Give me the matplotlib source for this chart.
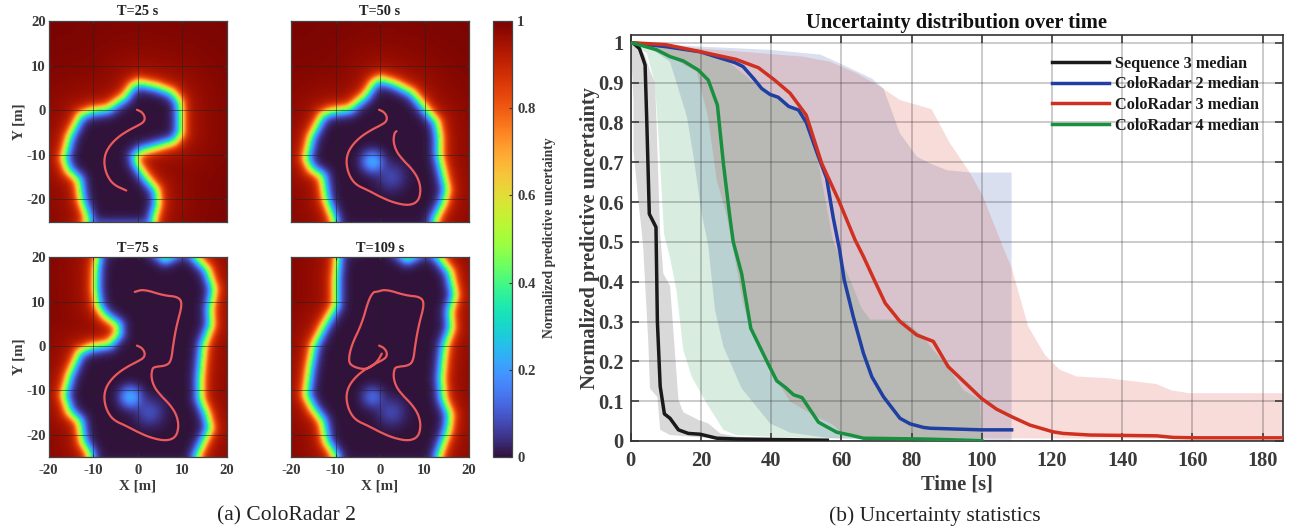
import numpy as np
import matplotlib
matplotlib.use("Agg")
import matplotlib.pyplot as plt
from matplotlib.path import Path

W, H = 1294, 531
plt.rcParams['font.family'] = ['Liberation Serif', 'DejaVu Serif']
plt.rcParams['font.weight'] = 'bold'
plt.rcParams['axes.unicode_minus'] = False
TXT = '#3a3a3a'

# ---------- left: free-space boundaries (x, y in metres) ----------
bound_25_x = [0.1,4.3,7.6,9.3,9.5,9.5,8,4.3,0.5,-0.7,-0.4,1.6,4.1,4.4,3.4,3.1,-12.6,-11.3,-12.9,-13.5,-15.9,-16.8,-15.6,-13.1,-10.7,-7,-3.2,-1.3]
bound_25_y = [6.3,5.4,4.1,1.9,-0.7,-5.2,-7.1,-8.2,-9.3,-10.4,-11.9,-14.9,-17.9,-20.9,-24.6,-26.5,-26.5,-24.6,-20.1,-15.7,-13.4,-10.8,-6,-1.1,-0.1,0.4,3,5.6]
bound_50_x = [0,3.4,7.1,9,10.5,12.7,13.3,13.3,14.2,15,14.2,12.3,12,-10.1,-10.5,-12.3,-13.1,-15.7,-16.8,-15.7,-13.1,-11.2,-7,-3.4,-1.5]
bound_50_y = [7.1,6,4.1,1.9,0,-2.6,-6,-10.4,-14.2,-17.9,-20.9,-24.6,-28,-28,-24.6,-20.1,-14.9,-13.1,-10.8,-6,-1.1,-0.2,0.4,3.4,6.3]
bound_75_x = [-9.5,0,3,6,9.5,11,13.2,15.5,17,16.2,16.4,14.7,14.4,14,14,15.5,16.2,14.7,13.2,12.9,-10.3,-11,-12.6,-13.3,-15.6,-16.8,-15.6,-13.3,-10.7,-6.6,-4.6,-4.7,-7.7,-9.2,-9.7,-9.6,-9.2]
bound_75_y = [22,24,22,19.8,21.5,22,19.7,17.4,12.9,8.4,4.7,0.2,-2.9,-7.4,-11.9,-15.6,-18.6,-21.7,-25,-28,-28,-24.3,-21.7,-17.1,-14.9,-11.1,-6.6,-1.4,-0.2,0.5,2.8,4.7,6.9,9.2,12.9,17.4,19.7]
bound_109_x = [-9.5,0,3,6,9.5,11,13.5,15.7,16.8,15.7,16,14.6,14.2,13.8,14.2,15.7,15.3,13.1,12.9,-10.1,-10.1,-12.3,-13.1,-15.3,-16.8,-16,-15,-12.7,-10.1,-10.1,-9.7]
bound_109_y = [22,24,22,19.8,21.5,22,19.7,16.8,11.6,7.8,4,0.2,-2.9,-7.4,-11.9,-15.6,-18.9,-25,-28,-28,-25,-21.6,-17.1,-14.1,-11.1,-5.1,0.2,4.7,9.2,15.2,19.7]

# travelled path
track_x = [-0.2,0.9,1.6,1.4,0.1,-2.1,-4.4,-6.2,-7.3,-7.6,-7,-5.5,-2.6,0,3,6.4,8.6,9.2,8.6,7.1,5.2,3.7,3,3.2,3.7,
           6.5,7.5,7.9,8.7,10,9.1,5.8,1.3,-0.7,
           -1.5,-2.6,-4.1,-6.4,-7.1,-6.4,-3.7,-1.9,-0.4,0.4]
track_y = [0.1,-0.4,-1.5,-2.6,-3.4,-4.5,-6,-7.8,-9.7,-11.9,-14.5,-16.7,-18,-19.4,-20.7,-21.4,-20.5,-17.9,-15.3,-13.1,-11.2,-9.3,-7.1,-5.2,-4.7,
           -4.4,-3.2,0.2,4.7,9.5,11.1,11.4,12.8,12.2,
           12.2,10.3,5,0.2,-3.2,-4.5,-5.3,-4.7,-3.2,-1.7]
track_ends = [13, 25, 34, 44]

times = ['T=25 s', 'T=50 s', 'T=75 s', 'T=109 s']
blob_main = [0.0, 0.21, 0.21, 0.11]
blob_side = [0.0, 0.07, 0.08, 0.07]

# ---------- right: median curves and bands ----------
seq3_t = [0,1,2.5,3.5,4.1,4.6,5.3,7.2,7.6,8.4,9.6,11.2,13.6,16.4,19.8,24.5,30,56]
seq3_m = [1,.997,.985,.96,.944,.797,.57,.537,.3,.137,.068,.057,.028,.019,.017,.007,.005,.002]
seq3_up_t = [0,2,4,5.5,6.9,7.2,8.4,9.3,11.2,13.6,15,19.3,22.1,25.5,30,49,56]
seq3_up = [1,.99,.97,.93,.9,.84,.52,.42,.39,.103,.072,.053,.044,.019,.011,.005,.002]
seq3_lo_t = [0,.8,.8,2.2,3.1,3.6,5,5.5,7.6,8.4,11.2,19.8,30,56]
seq3_lo = [1,.856,.73,.6,.53,.48,.25,.132,.11,.028,.015,.009,.002,0]

cr2_t = [0,10,19.8,29.7,32,35,37.3,39.7,42,45,47.8,50,53.5,55.8,57.7,59.5,60.8,63.4,66.3,68.7,72,76.7,79.6,83.4,85.3,100,108.5]
cr2_m = [1,.99,.977,.95,.94,.91,.885,.87,.863,.84,.831,.8,.713,.66,.56,.48,.405,.312,.22,.161,.111,.057,.043,.034,.032,.028,.028]
cr2_up_t = [0,20,39.7,54,59.6,68.7,72,76.7,81.5,85.2,90,96.6,108.5]
cr2_up = [1,.99,.982,.97,.948,.91,.885,.772,.714,.697,.68,.674,.674]
cr2_lo_t = [0,5,11.2,13.1,16,17.9,20.2,22.1,23.1,24,26.4,31.6,39.7,45.4,56.8,108.5]
cr2_lo = [1,.99,.952,.898,.814,.714,.572,.49,.404,.329,.237,.132,.044,.021,.007,0]

cr3_t = [0,10,19.5,30,36.4,41,45.4,50,54.4,59.2,63.9,66.3,69.6,72.5,76.7,81.5,86.2,90.4,99.9,104.2,108.5,113.7,120.3,123.2,130.8,149.8,154.5,161,186]
cr3_m = [1,.995,.978,.958,.937,.906,.873,.818,.697,.605,.505,.463,.4,.346,.3,.266,.25,.187,.107,.08,.061,.04,.023,.019,.015,.013,.009,.008,.008]
cr3_up_t = [0,10,20,32,49,56.8,64.4,71,76.7,85.7,90.9,96.6,100.4,106,108.5,113.2,118,122.2,127,135.5,149.8,154,159.3,186]
cr3_up = [1,.995,.985,.977,.965,.952,.923,.89,.856,.833,.748,.674,.613,.488,.435,.288,.216,.179,.162,.158,.143,.127,.12,.12]
cr3_lo_t = [0,10,18.8,22,24.5,27.4,29.2,32,34.5,39.7,45.4,51,57.7,60,68,85.3,186]
cr3_lo = [1,.97,.927,.814,.655,.563,.48,.346,.27,.178,.099,.07,.04,.019,.009,.007,.005]

cr4_t = [0,2.7,7.4,11.2,15,19.3,22.1,24.7,26.4,28.1,29.2,31.6,33,34.2,38.8,41.6,44,46.4,48.8,53.5,58.7,62.5,66.3,83.4,100]
cr4_m = [1,.994,.982,.965,.954,.931,.906,.843,.697,.572,.5,.42,.346,.283,.2,.151,.135,.116,.109,.047,.022,.015,.007,.005,.001]
cr4_up_t = [0,19.8,28.3,33,36.8,39.7,47.8,50,53.5,55.8,57.7,62.5,65.8,68.2,77.7,83.4,85.3,90,94.7,99.5,100]
cr4_up = [1,.977,.948,.915,.885,.87,.831,.8,.697,.588,.5,.405,.333,.305,.304,.262,.237,.19,.128,.103,0]
cr4_lo_t = [0,4.6,6.9,7.9,9.5,11.2,13,15,17.4,21.6,26.4,30,43.5,100]
cr4_lo = [1,.973,.898,.77,.52,.46,.38,.228,.161,.095,.028,.015,.009,0]

names = ['Sequence 3 median', 'ColoRadar 2 median', 'ColoRadar 3 median', 'ColoRadar 4 median']
colors = ['#1a1a1a', '#1f3fa3', '#d0301f', '#18903f']
bands = [
    (seq3_t, seq3_m, seq3_up_t, seq3_up, seq3_lo_t, seq3_lo),
    (cr2_t, cr2_m, cr2_up_t, cr2_up, cr2_lo_t, cr2_lo),
    (cr3_t, cr3_m, cr3_up_t, cr3_up, cr3_lo_t, cr3_lo),
    (cr4_t, cr4_m, cr4_up_t, cr4_up, cr4_lo_t, cr4_lo),
]


def px_axes(fig, l, t, r, b):
    return fig.add_axes([l / W, 1 - b / H, (r - l) / W, (b - t) / H])


def rounded(xs, ys, n=2):
    """Round the corners of a read-off polyline when drawing it."""
    p = np.column_stack([xs, ys]).astype(float)
    for _ in range(n):
        q = np.empty((2 * len(p), 2))
        q[0::2] = 0.75 * p + 0.25 * np.roll(p, -1, axis=0)
        q[1::2] = 0.25 * p + 0.75 * np.roll(p, -1, axis=0)
        q = q[:-2]
        p = np.vstack([p[:1], q, p[-1:]])
    return p[:, 0], p[:, 1]


def blur(a, sigma_cells):
    r = int(3 * sigma_cells)
    k = np.exp(-np.arange(-r, r + 1) ** 2 / (2 * sigma_cells ** 2))
    k /= k.sum()
    a = np.pad(a, r, mode='edge')
    a = np.apply_along_axis(lambda v: np.convolve(v, k, mode='same'), 0, a)
    a = np.apply_along_axis(lambda v: np.convolve(v, k, mode='same'), 1, a)
    return a[r:-r, r:-r]


def field(bx, by, main, side):
    xs = np.linspace(-20, 20, 161)
    ys = np.linspace(-25, 20, 181)
    X, Y = np.meshgrid(xs, ys)
    px = np.array(bx + bx[:1], float)
    py = np.array(by + by[:1], float)
    pts = np.column_stack([X.ravel(), Y.ravel()])
    dmin = np.full(pts.shape[0], np.inf)
    for i in range(len(px) - 1):
        a = np.array([px[i], py[i]])
        ab = np.array([px[i + 1] - px[i], py[i + 1] - py[i]])
        s = np.clip(((pts - a) @ ab) / (ab @ ab), 0, 1)
        dmin = np.minimum(dmin, np.hypot(*(pts - a - s[:, None] * ab).T))
    inside = Path(np.column_stack([px, py])).contains_points(pts)
    d = np.where(inside, -dmin, dmin).reshape(X.shape)
    d = blur(d, 3.0)
    v = 0.5 + 0.5 * np.tanh(d / 1.4)
    v = v - 0.08 * np.exp(-np.maximum(d, 0) / 6) * (d > 0)
    v += main * np.exp(-((X + 1.8) ** 2 + (Y + 11.5) ** 2) / (2 * 1.7 ** 2)) * (d < 0)
    v += side * np.exp(-((X - 2.5) ** 2 + (Y + 15) ** 2) / (2 * 2.2 ** 2)) * (d < 0)
    return np.clip(v, 0, 1)


fig = plt.figure(figsize=(W / 100, H / 100), dpi=100, facecolor='white')

boxes = [(48.7, 21, 227, 221.7), (291, 21, 469, 221.7), (48.7, 257.3, 227, 457), (291, 257.3, 469, 457)]
bounds = [(bound_25_x, bound_25_y), (bound_50_x, bound_50_y), (bound_75_x, bound_75_y), (bound_109_x, bound_109_y)]
im = None
for i, box in enumerate(boxes):
    ax = px_axes(fig, *box)
    f = field(bounds[i][0], bounds[i][1], blob_main[i], blob_side[i])
    im = ax.imshow(f, origin='lower', extent=[-20, 20, -25, 20], cmap='turbo', vmin=0, vmax=1,
                   aspect='auto', interpolation='bilinear')
    tx, ty = rounded(track_x[:track_ends[i]], track_y[:track_ends[i]])
    ax.plot(tx, ty, color='#ea5a5c', lw=1.6, solid_joinstyle='round', solid_capstyle='round')
    ax.set_xlim(-20, 20)
    ax.set_ylim(-25, 20)
    ax.set_xticks([-20, -10, 0, 10, 20])
    ax.set_yticks([-20, -10, 0, 10, 20])
    ax.grid(True, color='#222222', lw=0.7, alpha=0.55)
    ax.tick_params(direction='in', length=2.5, width=0.7, color='#333333', labelsize=10.6,
                   labelcolor=TXT, top=True, right=True,
                   labelleft=(i % 2 == 0), labelbottom=(i >= 2))
    ax.tick_params(axis='x', pad=5)
    ax.tick_params(axis='y', pad=2.2)
    for s in ax.spines.values():
        s.set_color('#444444')
        s.set_linewidth(0.9)
    ax.set_title(times[i], fontsize=10.4, fontweight='bold', color='#222222', pad=4)
    if i % 2 == 0:
        ax.set_ylabel('Y [m]', fontsize=10.8, fontweight='bold', color=TXT, labelpad=0.2)
    if i >= 2:
        ax.set_xlabel('X [m]', fontsize=10.8, fontweight='bold', color=TXT, labelpad=1.8)

cax = px_axes(fig, 492.7, 21, 511.7, 457)
cb = fig.colorbar(im, cax=cax)
cb.set_ticks([0, .2, .4, .6, .8, 1])
cb.set_ticklabels(['0', '0.2', '0.4', '0.6', '0.8', '1'])
cb.ax.tick_params(direction='in', length=2, width=0.8, labelsize=10.6, labelcolor=TXT, color='#333333', pad=4)
cb.outline.set_edgecolor('#444444')
cb.outline.set_linewidth(0.9)
fig.text(550 / W, 1 - 238 / H, 'Normalized predictive uncertainty', rotation=90, ha='center', va='center',
         fontsize=9.8, fontweight='bold', color=TXT)

# ---------- right panel ----------
ax = px_axes(fig, 630.7, 34.7, 1283, 441)
handles = []
for (t, m, ut, u, lt, lo), c, nm in zip(bands, colors, names):
    ax.fill(list(ut) + list(lt[::-1]), list(u) + list(lo[::-1]), color=c, alpha=0.165, lw=0, zorder=1)
for (t, m, ut, u, lt, lo), c, nm in zip(bands, colors, names):
    ln, = ax.plot(t, m, color=c, lw=2.5, label=nm, zorder=4, solid_joinstyle='round')
    handles.append(ln)
ax.set_xlim(0, 185.8)
ax.set_ylim(0, 1.02)
ax.set_xticks(np.arange(0, 181, 20))
ax.set_yticks(np.arange(0, 1.01, 0.1))
ax.set_yticklabels(['0', '0.1', '0.2', '0.3', '0.4', '0.5', '0.6', '0.7', '0.8', '0.9', '1'])
ax.grid(True, color='#222222', lw=1.2, alpha=0.27, zorder=3)
ax.set_axisbelow(False)
ax.tick_params(direction='in', length=6, width=1.1, color='#333333', labelsize=14.8, labelcolor=TXT,
               top=True, right=True)
ax.tick_params(axis='x', pad=7)
ax.tick_params(axis='y', pad=5)
for s in ax.spines.values():
    s.set_color('#333333')
    s.set_linewidth(1.2)
ax.set_title('Uncertainty distribution over time', fontsize=14.8, fontweight='bold', color='#111111', pad=5)
ax.set_xlabel('Time [s]', fontsize=14.8, fontweight='bold', color=TXT, labelpad=3)
ax.set_ylabel('Normalized predictive uncertainty', fontsize=14.8, fontweight='bold', color=TXT, labelpad=-1)
leg = ax.legend(handles=handles, loc='upper left', bbox_to_anchor=((1051.7 - 630.7) / 652.3, 1 - (55.5 - 34.7) / 406.3),
                frameon=False, fontsize=11.7, handlelength=3.55, handletextpad=0.37, labelspacing=0.29,
                borderpad=0, borderaxespad=0)
for tx in leg.get_texts():
    tx.set_color('#1a1a1a')
    tx.set_fontweight('bold')
leg.set_zorder(6)

fig.text(286 / W, 1 - 516 / H, '(a) ColoRadar 2', ha='center', va='center', fontsize=15.5, fontweight='normal', color='#222222')
fig.text(934.5 / W, 1 - 516 / H, '(b) Uncertainty statistics', ha='center', va='center', fontsize=15.5, fontweight='normal', color='#222222')

fig.savefig('out.png', dpi=100, facecolor='white')
